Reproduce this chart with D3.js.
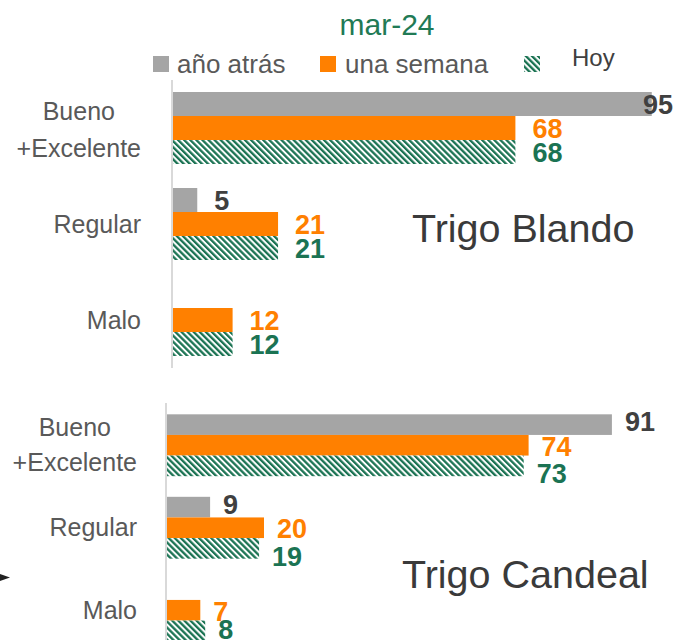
<!DOCTYPE html>
<html>
<head>
<meta charset="utf-8">
<script src="https://cdn.jsdelivr.net/npm/d3@7"></script>
<style>
  html, body { margin: 0; padding: 0; background: #fff; }
  svg { display: block; overflow: hidden; }
  text { font-family: "Liberation Sans", Arial, sans-serif; }
</style>
</head>
<body>
<script>
// ---- data ----
const chartTitle = "mar-24";
const categories = ["Bueno\n+Excelente", "Regular", "Malo"];
const seriesNames = ["año atrás", "una semana", "Hoy"];
const blandoAnoAtras = [95, 5, null];
const blandoUnaSemana = [68, 21, 12];
const blandoHoy = [68, 21, 12];
const candealAnoAtras = [91, 9, null];
const candealUnaSemana = [74, 20, 7];
const candealHoy = [73, 19, 8];
const panelNames = ["Trigo Blando", "Trigo Candeal"];

// ---- styling ----
const W = 687, H = 640;
const colGray = "#A5A5A5", colOrange = "#FF8000", colGreen = "#1B7353";
const labelColors = ["#404040", colOrange, colGreen];

const svg = d3.select("body").append("svg").attr("width", W).attr("height", H);
const defs = svg.append("defs");
const pat = defs.append("pattern").attr("id", "hatch")
  .attr("patternUnits", "userSpaceOnUse").attr("width", 4.3).attr("height", 4.3)
  .attr("patternTransform", "rotate(-45)");
pat.append("rect").attr("width", 4.3).attr("height", 4.3).attr("fill", "#fff");
pat.append("rect").attr("width", 2.3).attr("height", 4.3).attr("fill", colGreen);
const fills = [colGray, colOrange, "url(#hatch)"];

// title
svg.append("text").attr("x", 387).attr("y", 35).attr("text-anchor", "middle")
  .attr("font-size", 30).attr("fill", "#217A55").text(chartTitle);

// legend
const legend = [
  {x: 153, tx: 177, ty: 73, size: 26, color: "#595959"},
  {x: 320, tx: 345, ty: 73, size: 26, color: "#595959"},
  {x: 524, tx: 572, ty: 66, size: 24, color: "#404040"}
];
legend.forEach((l, i) => {
  svg.append("rect").attr("x", l.x).attr("y", 56).attr("width", 16).attr("height", 16)
    .attr("fill", fills[i]);
  svg.append("text").attr("x", l.tx).attr("y", l.ty).attr("font-size", l.size)
    .attr("fill", l.color).text(seriesNames[i]);
});

const panels = [
  {name: panelNames[0], series: [blandoAnoAtras, blandoUnaSemana, blandoHoy],
   xRange: [172, 677], yRange: [80, 368], axisY: [80, 368], labelRight: 141,
   lineH: 37, catOff: 2, valOff: 17, valDy: [0, 0, 0], nameX: 412, nameY: 242},
  {name: panelNames[1], series: [candealAnoAtras, candealUnaSemana, candealHoy],
   xRange: [166, 656], yRange: [404, 651.5], axisY: [403, 640], labelRight: 137,
   lineH: 35, catOff: -0.5, valOff: 13, valDy: [-3, 1, 8], nameX: 402, nameY: 588}
];

panels.forEach(p => {
  const g = svg.append("g");
  const x = d3.scaleLinear().domain([0, 100]).range(p.xRange);
  const y = d3.scaleBand().domain(categories).range(p.yRange)
    .paddingInner(0.25).paddingOuter(0.125);
  const ys = d3.scaleBand().domain(seriesNames).range([0, y.bandwidth()]).padding(0);

  // axis line
  g.append("line").attr("x1", x(0)).attr("x2", x(0))
    .attr("y1", p.axisY[0]).attr("y2", p.axisY[1])
    .attr("stroke", "#D9D9D9").attr("stroke-width", 2);

  const rows = [];
  p.series.forEach((vals, si) => vals.forEach((v, ci) => {
    if (v !== null) rows.push({s: si, c: categories[ci], v});
  }));

  g.selectAll("rect.bar").data(rows).join("rect").attr("class", "bar")
    .attr("x", x(0) + 1)
    .attr("y", d => y(d.c) + ys(seriesNames[d.s]))
    .attr("width", d => x(d.v) - x(0) - 1)
    .attr("height", ys.bandwidth())
    .attr("fill", d => fills[d.s]);

  g.selectAll("text.val").data(rows).join("text").attr("class", "val")
    .attr("x", d => x(d.v) + p.valOff)
    .attr("y", d => Math.min(639, y(d.c) + ys(seriesNames[d.s]) + ys.bandwidth() / 2 + 9.5 + p.valDy[d.s]))
    .attr("font-size", 27).attr("font-weight", "bold")
    .attr("fill", d => labelColors[d.s])
    .text(d => d.v)
    .each(function () {
      const t = d3.select(this);
      const w = this.getComputedTextLength();
      const xx = +t.attr("x");
      if (xx + w > 673) t.attr("x", 673 - w);
    });

  // category labels
  categories.forEach(c => {
    const lines = c.split("\n");
    const cy = y(c) + y.bandwidth() / 2;
    const t = g.append("text").attr("font-size", 25).attr("fill", "#595959")
      .attr("text-anchor", "middle");
    lines.forEach((ln, i) => {
      const off = lines.length > 1 ? p.catOff : 0;
      t.append("tspan").attr("x", 0)
        .attr("y", cy + 8.5 + off + (i - (lines.length - 1) / 2) * p.lineH).text(ln);
    });
    const bw = t.node().getBBox().width;
    t.selectAll("tspan").attr("x", p.labelRight - bw / 2);
  });

  // panel name
  g.append("text").attr("x", p.nameX).attr("y", p.nameY).attr("font-size", 39.5)
    .attr("fill", "#3A3A3A").text(p.name);
});

// small arrow fragment at left edge
svg.append("path").attr("d", "M0,574 L10,577.5 L0,581 Z").attr("fill", "#222");
</script>
</body>
</html>
